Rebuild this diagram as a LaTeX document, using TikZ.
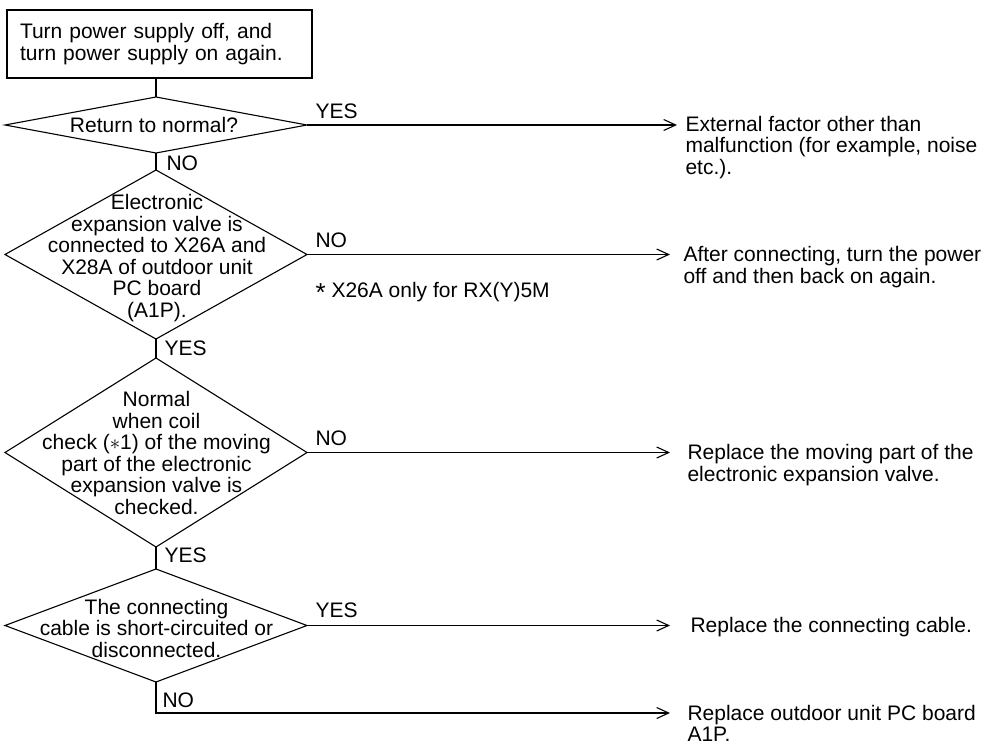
\documentclass[tikz,border=0pt]{standalone}
\usepackage{fontspec}
\setmainfont{Liberation Sans}
\usetikzlibrary{arrows.meta,shapes.geometric}
% left-aligned stacked lines whose baseline is the first line's baseline
\newcommand\leftlines[1]{\begin{tabular}[t]{@{}l@{}}#1\end{tabular}}
% footnote star, a little larger and lowered
\newcommand\notestar{{\fontsize{26}{26}\selectfont\raisebox{-.14em}{*}}}

\begin{document}
\begin{tikzpicture}[x=1pt,y=-1pt,
  line width=1.1pt,
  every node/.style={font=\fontsize{21}{21.5}\selectfont},
  arr/.style={-{Straight Barb[length=12pt,width=11pt]}},
  startbox/.style={draw, rectangle, minimum width=305pt, minimum height=68pt,
    text width=279pt, inner xsep=13pt, inner ysep=0pt, align=left, outer sep=0pt},
  decision/.style={draw, diamond, minimum width=302pt, inner sep=0pt, outer sep=0pt},
  dtext/.style={align=center, inner sep=0pt},
  tag/.style={anchor=base west, inner sep=0pt},
  result/.style={anchor=base west, inner ysep=0pt},
]
\fill[white] (0,0) rectangle (989,742);
\useasboundingbox (0,0) rectangle (989,742);

% start box
\node[startbox] (start) at (159.5,44) {Turn power supply off, and\\turn power supply on again.};

% decisions
\node[decision, minimum height=56pt] (d1) at (156,125) {};
\node[dtext] (q1) at (154,125) {Return to normal?};

\node[decision, minimum height=169pt] (d2) at (156,254.5) {};
\node[dtext] (q2) at (157,258) {Electronic\\expansion valve is\\connected to X26A and\\X28A of outdoor unit\\PC board\\(A1P).};

\node[decision, minimum height=189pt] (d3) at (156,452.5) {};
\node[dtext] (q3) at (156.5,453) {Normal\\when coil\\check ($\ast$1) of the moving\\part of the electronic\\expansion valve is\\checked.};

\node[decision, minimum height=113pt] (d4) at (156,625.5) {};
\node[dtext] (q4) at (156.5,628) {The connecting\\cable is short-circuited or\\disconnected.};

% outcomes
\node[result, inner xsep=8pt] (r1) at (677,131) {\leftlines{External factor other than\\malfunction (for example, noise\\etc.).}};
\node[result, inner xsep=13pt] (r2) at (670,261.5) {\leftlines{After connecting, turn the power\\off and then back on again.}};
\node[result, inner xsep=17pt] (r3) at (670,459.5) {\leftlines{Replace the moving part of the\\electronic expansion valve.}};
\node[result, inner xsep=20pt] (r4) at (670,632.5) {Replace the connecting cable.};
\node[result, inner xsep=17pt] (r5) at (670,720) {\leftlines{Replace outdoor unit PC board\\A1P.}};

% vertical flow
\draw (start.south -| d1.north) -- (d1.north);
\draw (d1.south) -- (d2.north);
\draw (d2.south) -- (d3.north);
\draw (d3.south) -- (d4.north);

% branches
\draw[arr] (d1.east) -- (d1.east -| r1.west);
\draw[arr] (d2.east) -- (d2.east -| r2.west);
\draw[arr] (d3.east) -- (d3.east -| r3.west);
\draw[arr] (d4.east) -- (d4.east -| r4.west);
\draw[arr] (d4.south) |- ([yshift=7pt]r5.base west);

% branch labels
\node[tag] (y1) at ([xshift=8pt,yshift=7pt]d1.east) {YES};
\node[tag] (n2) at ([xshift=8pt,yshift=7pt]d2.east) {NO};
\node[tag] (n3) at ([xshift=8pt,yshift=7pt]d3.east) {NO};
\node[tag] (y4) at ([xshift=8pt,yshift=8pt]d4.east) {YES};
\node[tag] (note) at ([xshift=8pt,yshift=-43pt]d2.east) {\notestar\ X26A only for RX(Y)5M};

\node[tag] (n1) at ([xshift=10pt,yshift=-17.5pt]d1.south) {NO};
\node[tag] (y2) at ([xshift=8pt,yshift=-16pt]d2.south) {YES};
\node[tag] (y3) at ([xshift=8pt,yshift=-15.5pt]d3.south) {YES};
\node[tag] (n4) at ([xshift=6pt,yshift=-25.5pt]d4.south) {NO};
\end{tikzpicture}
\end{document}
